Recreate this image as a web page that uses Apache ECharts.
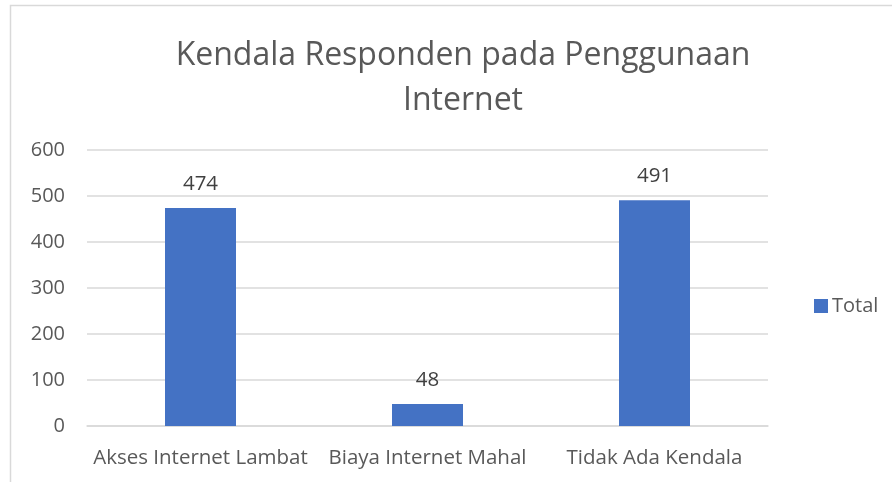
<!DOCTYPE html>
<html><head><meta charset="utf-8">
<script src="https://cdn.jsdelivr.net/npm/echarts@6/dist/echarts.min.js"></script>
<style>html,body{margin:0;padding:0;background:#fff}#c{width:892px;height:482px}</style>
</head><body><div id="c"></div>
<script>
const categories = ['Akses Internet Lambat', 'Biaya Internet Mahal', 'Tidak Ada Kendala'];
const totalValues = [474, 48, 491];
const seriesName = 'Total';
const titleText = 'Kendala Responden pada Penggunaan\nInternet';

const chart = echarts.init(document.getElementById('c'));
const font = '"Open Sans", "Noto Sans", sans-serif';
chart.setOption({
  animation: false,
  textStyle: { fontFamily: font },
  graphic: [{
    type: 'rect', shape: { x: 10.5, y: 5.5, width: 900, height: 500 },
    style: { fill: 'none', stroke: '#d9d9d9', lineWidth: 1.5 }, silent: true
  }],
  title: {
    text: titleText, left: 458, top: 28, textAlign: 'center',
    textStyle: { fontFamily: font, fontSize: 32, fontWeight: 'normal', color: '#595959', lineHeight: 45 }
  },
  legend: {
    data: [seriesName], left: 809, top: 291, itemWidth: 14, itemHeight: 14, icon: 'rect',
    itemGap: 6,
    textStyle: { fontFamily: font, fontSize: 20, color: '#595959', padding: [0, 0, 0, -1] }
  },
  grid: { left: 87, right: 124, top: 150, bottom: 56, containLabel: false },
  xAxis: {
    type: 'category', data: categories,
    axisLine: { show: true, lineStyle: { color: '#d9d9d9', width: 1.5 } },
    axisTick: { show: false },
    axisLabel: { fontFamily: font, fontSize: 20.5, color: '#595959', margin: 22, interval: 0 }
  },
  yAxis: {
    type: 'value', min: 0, max: 600, interval: 100,
    axisLine: { show: false }, axisTick: { show: false },
    splitLine: { lineStyle: { color: '#d9d9d9', width: 1.5 } },
    axisLabel: { fontFamily: font, fontSize: 20, color: '#595959', margin: 22 }
  },
  series: [{
    name: seriesName, type: 'bar', data: totalValues, barWidth: 71,
    itemStyle: { color: '#4472c4' },
    label: { show: true, position: 'top', distance: 13, fontFamily: font, fontSize: 20.5, color: '#404040' }
  }]
});
</script></body></html>
